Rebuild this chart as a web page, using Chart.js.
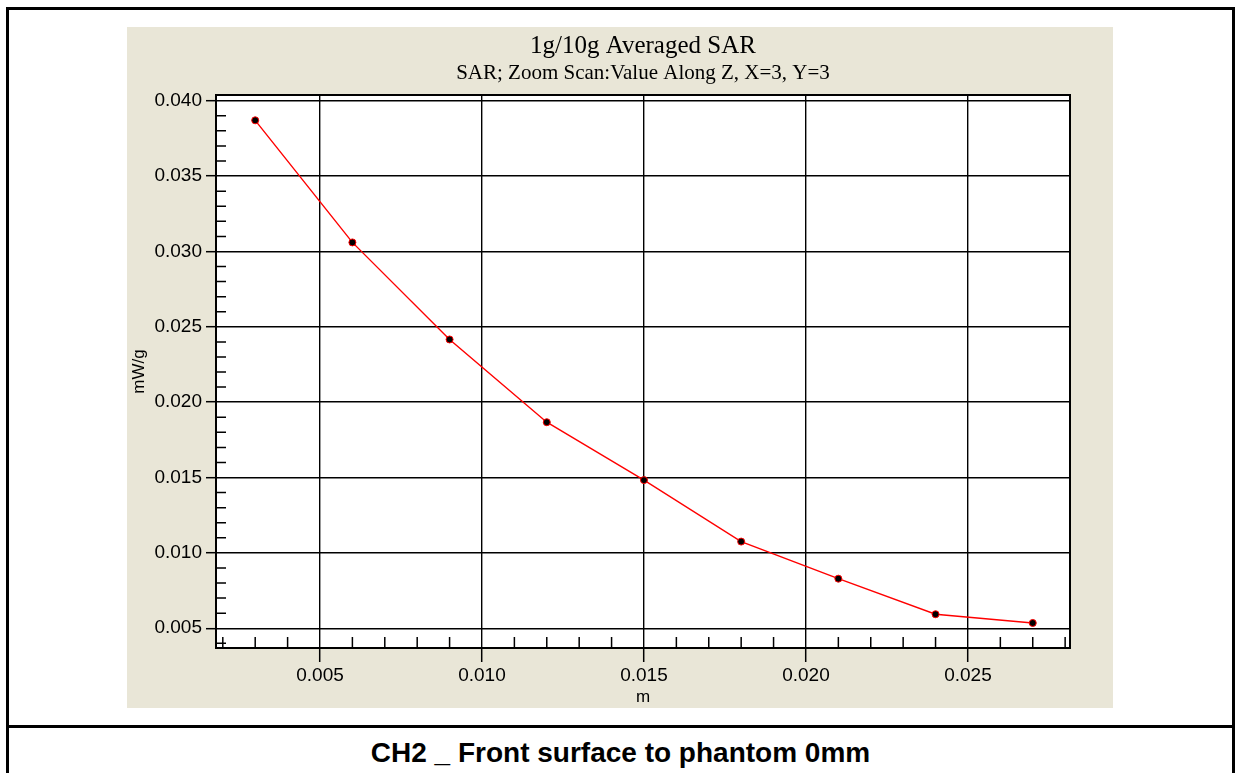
<!DOCTYPE html>
<html lang="en">
<head>
    <meta charset="UTF-8">
    <title>1g/10g Averaged SAR</title>
    <script src="https://cdn.jsdelivr.net/npm/chart.js@4.4.0/dist/chart.umd.min.js"></script>
    <style>
        body {
            margin: 0;
            background: #fff;
            width: 1240px;
            height: 773px;
            overflow: hidden;
            position: relative;
        }
        .frame {
            position: absolute;
            left: 6px;
            top: 7px;
            width: 1229px;
            height: 820px;
            border: 3px solid #000;
            box-sizing: border-box;
        }
        .divider {
            position: absolute;
            left: 6px;
            top: 725px;
            width: 1229px;
            height: 3px;
            background: #000;
        }
        .caption {
            position: absolute;
            left: 6px;
            width: 1229px;
            top: 737px;
            text-align: center;
            font: bold 28px "Liberation Sans", Arial, sans-serif;
            line-height: 32px;
            color: #000;
        }
        .panel {
            position: absolute;
            left: 127px;
            top: 27px;
            width: 986px;
            height: 681px;
            background: #e9e6d7;
        }
    </style>
</head>
<body>
    <div class="frame"></div>
    <div class="divider"></div>
    <div class="caption">CH2 _ Front surface to phantom 0mm</div>
    <div class="panel">
        <canvas id="sarChart" width="986" height="681"></canvas>
    </div>

    <script>
        // values
        const depths = [0.003, 0.006, 0.009, 0.012, 0.015, 0.018, 0.021, 0.024, 0.027];
        const sarValues = [0.0387, 0.0306, 0.02416, 0.01867, 0.01483, 0.01075, 0.00829, 0.00593, 0.00535];
        const xTicks = [0.005, 0.010, 0.015, 0.020, 0.025];
        const yTicks = [0.005, 0.010, 0.015, 0.020, 0.025, 0.030, 0.035, 0.040];

        const points = depths.map((d, i) => ({ x: d, y: sarValues[i] }));

        // white plot area, frame and inner minor ticks
        const framePlugin = {
            id: 'frame',
            beforeDraw(chart) {
                const a = chart.chartArea;
                const ctx = chart.ctx;
                ctx.save();
                ctx.fillStyle = '#fff';
                ctx.fillRect(a.left, a.top, a.right - a.left, a.bottom - a.top);
                ctx.restore();
            },
            afterDraw(chart) {
                const ctx = chart.ctx;
                const a = chart.chartArea;
                const xs = chart.scales.x;
                const ys = chart.scales.y;
                ctx.save();
                ctx.strokeStyle = '#000';
                ctx.lineWidth = 1.5;
                ctx.beginPath();
                for (let i = 2; i <= 28; i++) {
                    if (i % 5 === 0) continue;
                    const px = xs.getPixelForValue(i / 1000);
                    ctx.moveTo(px, a.bottom);
                    ctx.lineTo(px, a.bottom - 11);
                }
                for (let i = 4; i <= 40; i++) {
                    if (i % 5 === 0) continue;
                    const py = ys.getPixelForValue(i / 1000);
                    ctx.moveTo(a.left, py);
                    ctx.lineTo(a.left + 10, py);
                }
                ctx.stroke();
                ctx.lineWidth = 2;
                ctx.strokeRect(a.left, a.top, a.right - a.left, a.bottom - a.top);
                ctx.restore();
            }
        };

        const tickFont = { family: '"Liberation Sans", Arial, sans-serif', size: 19 };

        new Chart(document.getElementById('sarChart').getContext('2d'), {
            type: 'line',
            data: {
                datasets: [{
                    data: points,
                    borderColor: '#ff0000',
                    borderWidth: 1.4,
                    pointRadius: 3.5,
                    pointBackgroundColor: '#000',
                    pointBorderColor: '#ff0000',
                    pointBorderWidth: 1,
                    tension: 0
                }]
            },
            options: {
                responsive: false,
                animation: false,
                layout: { padding: { left: 0, right: 43, top: 0, bottom: 0 } },
                plugins: {
                    legend: { display: false },
                    tooltip: { enabled: false },
                    title: {
                        display: true,
                        fullSize: false,
                        text: '1g/10g Averaged SAR',
                        color: '#000',
                        font: { family: '"Liberation Serif", "Times New Roman", serif', size: 25, weight: 'normal' },
                        padding: { top: 4, bottom: 0 }
                    },
                    subtitle: {
                        display: true,
                        fullSize: false,
                        text: 'SAR; Zoom Scan:Value Along Z, X=3, Y=3',
                        color: '#000',
                        font: { family: '"Liberation Serif", "Times New Roman", serif', size: 21 },
                        padding: { top: 0, bottom: 8.8 }
                    }
                },
                scales: {
                    x: {
                        type: 'linear',
                        min: 0.00179,
                        max: 0.02815,
                        afterBuildTicks: s => { s.ticks = xTicks.map(v => ({ value: v })); },
                        afterFit: s => { s.height = 60; },
                        ticks: {
                            callback: v => v.toFixed(3),
                            color: '#000',
                            font: tickFont,
                            padding: 2,
                            maxRotation: 0,
                            autoSkip: false
                        },
                        grid: { color: '#000', lineWidth: 1.4, tickLength: 14, tickColor: '#000', tickWidth: 1.5 },
                        border: { display: false },
                        title: {
                            display: true,
                            text: 'm',
                            color: '#000',
                            font: { family: '"Liberation Sans", Arial, sans-serif', size: 17 },
                            padding: { top: 0, bottom: 0 }
                        }
                    },
                    y: {
                        type: 'linear',
                        min: 0.00369,
                        max: 0.04038,
                        afterBuildTicks: s => { s.ticks = yTicks.map(v => ({ value: v })); },
                        afterFit: s => { s.width = 89; },
                        ticks: {
                            callback: v => v.toFixed(3),
                            color: '#000',
                            font: tickFont,
                            padding: 4,
                            autoSkip: false
                        },
                        grid: { color: '#000', lineWidth: 1.4, tickLength: 10, tickColor: '#000', tickWidth: 1.5 },
                        border: { display: false },
                        title: {
                            display: true,
                            text: 'mW/g',
                            color: '#000',
                            font: { family: '"Liberation Sans", Arial, sans-serif', size: 17 },
                            padding: { top: 2, bottom: 0 }
                        }
                    }
                }
            },
            plugins: [framePlugin]
        });
    </script>
</body>
</html>
